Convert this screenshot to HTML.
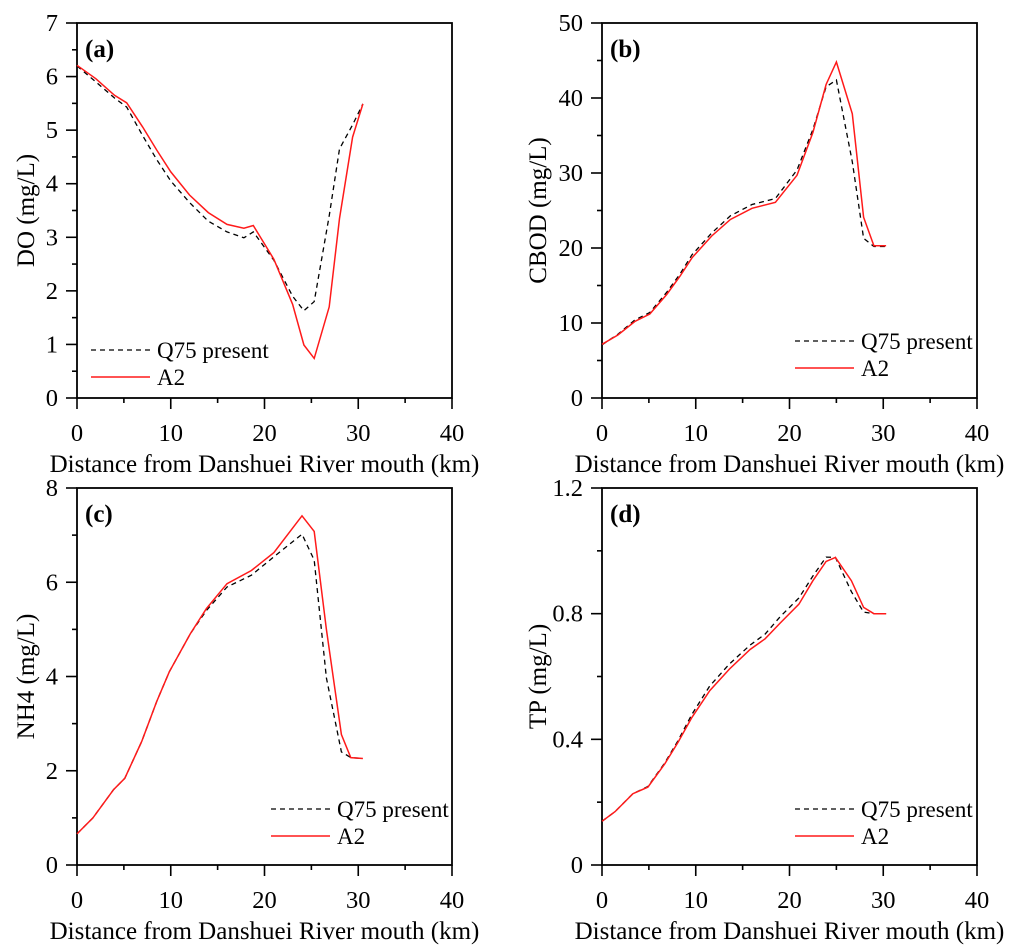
<!DOCTYPE html>
<html><head><meta charset="utf-8">
<style>
body{margin:0;background:#fff;}
svg{display:block;font-family:"Liberation Serif",serif;}
</style></head>
<body>
<svg id="fig" width="1024" height="951" viewBox="0 0 1024 951"></svg>
<script>
// Panel (a) DO
const xA = [0,2,4,5.3,7,8.5,10,12,14,16,17.8,18.8,21,23,24.2,25.3,26.9,28,29.4,30.5];
const qA = [6.2,5.9,5.6,5.43,4.9,4.45,4.05,3.65,3.3,3.1,2.99,3.1,2.57,1.9,1.63,1.8,3.4,4.65,5.1,5.49];
const rA = [6.21,5.96,5.65,5.51,5.06,4.63,4.22,3.79,3.46,3.24,3.17,3.22,2.59,1.75,0.99,0.74,1.7,3.35,4.87,5.49];
const ticksA = [0,1,2,3,4,5,6,7];
// Panel (b) CBOD
const xB = [0,1.7,3.5,5.1,6.9,8.3,9.6,11.7,13.7,16,18.5,20.8,22.5,23.9,25,26.7,27.9,29,30.3];
const qB = [7.1,8.5,10.4,11.4,14.1,16.5,19.1,22.0,24.3,25.8,26.6,30.4,35.8,41.5,42.4,31.5,21.3,20.2,20.2];
const rB = [7.16,8.4,10.2,11.2,13.8,16.2,18.7,21.6,23.8,25.3,26.1,29.7,35.4,41.8,44.8,37.9,24.1,20.3,20.3];
const ticksB = [0,10,20,30,40,50];
// Panel (c) NH4
const xC = [0,1.7,3.9,5.1,6.9,8.5,9.85,12.1,13.8,16,18.6,21,24,25.3,26.6,28.2,29.2,30.5];
const qC = [0.66,1.0,1.6,1.84,2.62,3.47,4.1,4.91,5.4,5.9,6.15,6.54,7.02,6.47,3.97,2.4,2.28,2.26];
const rC = [0.66,1.0,1.6,1.84,2.62,3.47,4.1,4.91,5.44,5.97,6.25,6.63,7.41,7.08,5.0,2.77,2.28,2.26];
const ticksC = [0,2,4,6,8];
// Panel (d) TP
const xD = [0,1.4,3.3,4.9,6.7,8.1,9.6,11.5,13.6,15.8,17.4,19,21,22.5,23.9,24.9,26.6,27.9,29,30.3];
const qD = [0.139,0.17,0.227,0.25,0.325,0.395,0.48,0.57,0.64,0.70,0.735,0.79,0.85,0.92,0.98,0.979,0.87,0.805,0.8,0.8];
const rD = [0.139,0.17,0.227,0.248,0.322,0.39,0.47,0.555,0.624,0.686,0.72,0.77,0.83,0.905,0.966,0.979,0.905,0.82,0.8,0.8];
const ticksD = [0,0.4,0.8,1.2];
const xTicks = [0,10,20,30,40];

const NS = "http://www.w3.org/2000/svg";
const svg = document.getElementById("fig");
function mk(tag, attrs, parent){
  const e = document.createElementNS(NS, tag);
  for (const k in attrs) e.setAttribute(k, attrs[k]);
  (parent||svg).appendChild(e);
  return e;
}
function panel(o){
  const g = mk("g", {});
  
  
  const L=o.L,R=o.R,T=o.T,B=o.B;
  const ymax = o.yt[o.yt.length-1];
  const sx = v => L + (v/40)*(R-L);
  const sy = v => B - (v/ymax)*(B-T);
  const frame = mk("rect",{x:L,y:T,width:R-L,height:B-T,fill:"none",stroke:"#000","stroke-width":1.8},g);
  
  
  for (let v=0; v<=40; v+=5){
    const major = v%10===0;
    mk("line",{x1:sx(v),x2:sx(v),y1:B,y2:B+(major?11:5),stroke:"#000","stroke-width":1.6},g);
  }
  xTicks.forEach(v=>{
    const t = mk("text",{x:sx(v),y:B+43,"font-size":24.5,"text-anchor":"middle"},g);
    t.textContent = v;
    
    
  });
  const step = o.yt[1]-o.yt[0];
  for (let i=0;i<o.yt.length;i++){
    const v=o.yt[i];
    mk("line",{x1:L-11,x2:L,y1:sy(v),y2:sy(v),stroke:"#000","stroke-width":1.6},g);
    if (i<o.yt.length-1){
      const m=v+step/2;
      mk("line",{x1:L-5,x2:L,y1:sy(m),y2:sy(m),stroke:"#000","stroke-width":1.6},g);
    }
    const t = mk("text",{x:L-19,y:sy(v)+8,"font-size":24.5,"text-anchor":"end"},g);
    t.textContent = v;
    
    
  }
  const xt = mk("text",{x:(L+R)/2,y:B+74,"font-size":25,"text-anchor":"middle"},g);
  xt.textContent = "Distance from Danshuei River mouth (km)";
  
  
  const yc=(T+B)/2;
  const yt = mk("text",{x:o.ytx,y:yc,"font-size":25,"text-anchor":"middle",transform:"rotate(-90 "+o.ytx+" "+yc+")"},g);
  yt.textContent = o.ytitle;
  
  
  const pl = mk("text",{x:L+8,y:T+34,"font-size":25,"font-weight":"bold"},g);
  pl.textContent = "("+o.id+")";
  
  
  const path = (xs,ys)=> xs.map((x,i)=>(i?"L":"M")+sx(x).toFixed(1)+" "+sy(ys[i]).toFixed(1)).join(" ");
  const q = mk("path",{d:path(o.x,o.q),fill:"none",stroke:"#000","stroke-width":1.3,"stroke-dasharray":"5,4"},g);
  
  
  const r = mk("path",{d:path(o.x,o.r),fill:"none",stroke:"#ff1a1a","stroke-width":1.5},g);
  
  
  const lx=o.lx, ly=o.ly;
  const lg = mk("g",{},g);
  
  
  mk("line",{x1:lx,x2:lx+59,y1:ly,y2:ly,stroke:"#000","stroke-width":1.3,"stroke-dasharray":"5,4"},lg);
  const t1=mk("text",{x:lx+66,y:ly+8,"font-size":23},lg);
  t1.textContent="Q75 present";
  
  
  mk("line",{x1:lx,x2:lx+59,y1:ly+27,y2:ly+27,stroke:"#ff1a1a","stroke-width":1.5},lg);
  const t2=mk("text",{x:lx+66,y:ly+35,"font-size":23},lg);
  t2.textContent="A2";
  
  
}
panel({id:"a",L:77,R:452,T:23,B:398,yt:ticksA,x:xA,q:qA,r:rA,ytitle:"DO (mg/L)",ytx:34,lx:91,ly:350});
panel({id:"b",L:602,R:977,T:23,B:398,yt:ticksB,x:xB,q:qB,r:rB,ytitle:"CBOD (mg/L)",ytx:546,lx:795,ly:341});
panel({id:"c",L:77,R:452,T:488,B:865,yt:ticksC,x:xC,q:qC,r:rC,ytitle:"NH4 (mg/L)",ytx:34,lx:271,ly:809});
panel({id:"d",L:602,R:977,T:488,B:865,yt:ticksD,x:xD,q:qD,r:rD,ytitle:"TP (mg/L)",ytx:546,lx:795,ly:809});
</script>
</body></html>
